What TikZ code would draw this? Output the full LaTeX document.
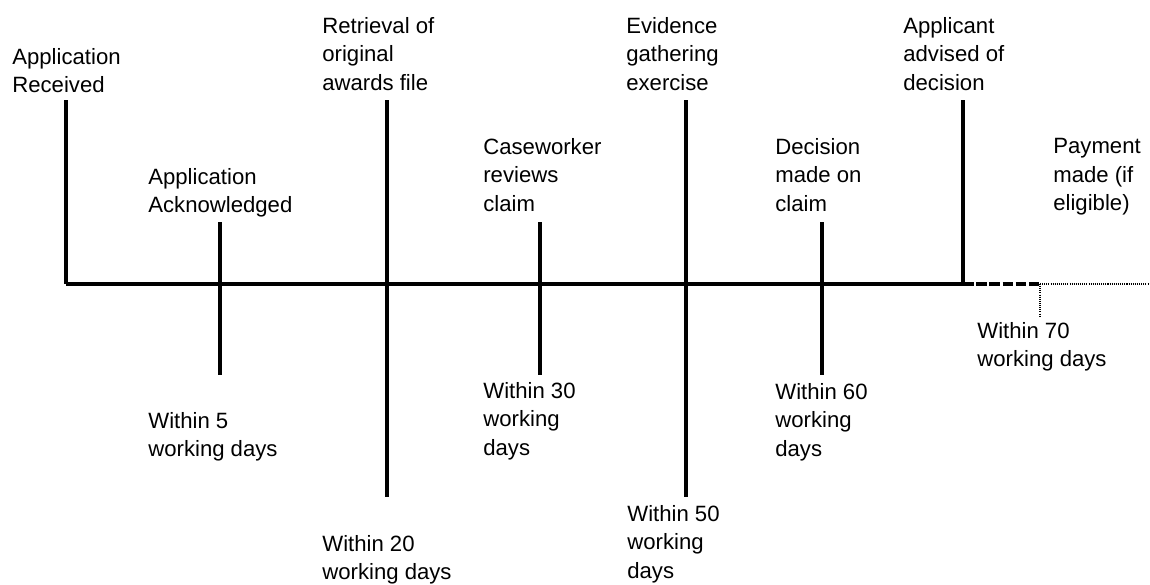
\documentclass[tikz,border=0pt]{standalone}
\usepackage{fontspec}
\setmainfont{Liberation Sans}
\usepackage{tikz}

\tikzset{
  lbl/.style = {anchor = north west, inner sep = 0pt, align = left,
                font = \fontsize{12.6}{16.2}\selectfont},
  tick/.style = {line width = 2.1pt},
}

\begin{document}
\begin{tikzpicture}[x = 0.02cm, y = -0.02cm]
\useasboundingbox (0,0) rectangle (1150,585);
% Time axis
\coordinate (start) at (66,284);
\coordinate (dec) at (963,284);
\coordinate (pay) at (1040,284);
\coordinate (stop) at (1150,284);
\draw[line width = 2pt] (start) -- (dec);
\draw[line width = 1.8pt, dash pattern = on 6pt off 1.5pt] (dec) -- (pay);
\draw[line width = 1.2pt, dash pattern = on 0.6pt off 0.6pt] (pay) -- (stop);
\draw[line width = 1.2pt, dash pattern = on 0.6pt off 0.6pt] (pay) -- (1040,316);
% Ticks
\draw[tick] (66,100) -- (start);
\draw[tick] (220,222) -- (220,375);
\draw[tick] (387,100) -- (387,497);
\draw[tick] (540,222) -- (540,375);
\draw[tick] (686,100) -- (686,497);
\draw[tick] (822,222) -- (822,375);
\draw[tick] (963,100) -- (dec);
% Labels above
\node[lbl] (recv) at (12,48) {Application\\Received};
\node[lbl] (ack) at (148,168) {Application\\Acknowledged};
\node[lbl] (file) at (322,17) {Retrieval of\\original\\awards file};
\node[lbl] (review) at (483,138) {Caseworker\\reviews\\claim};
\node[lbl] (evid) at (626,17) {Evidence\\gathering\\exercise};
\node[lbl] (decide) at (775,138) {Decision\\made on\\claim};
\node[lbl] (advise) at (903,17) {Applicant\\advised of\\decision};
\node[lbl] (paid) at (1053,138) {Payment\\made (if\\eligible)};
% Labels below
\node[lbl] (d5) at (148,412) {Within 5\\working days};
\node[lbl] (d20) at (322,535) {Within 20\\working days};
\node[lbl] (d30) at (483,382) {Within 30\\working\\days};
\node[lbl] (d50) at (627,505) {Within 50\\working\\days};
\node[lbl] (d60) at (775,383) {Within 60\\working\\days};
\node[lbl] (d70) at (977,322) {Within 70\\working days};
\end{tikzpicture}
\end{document}
